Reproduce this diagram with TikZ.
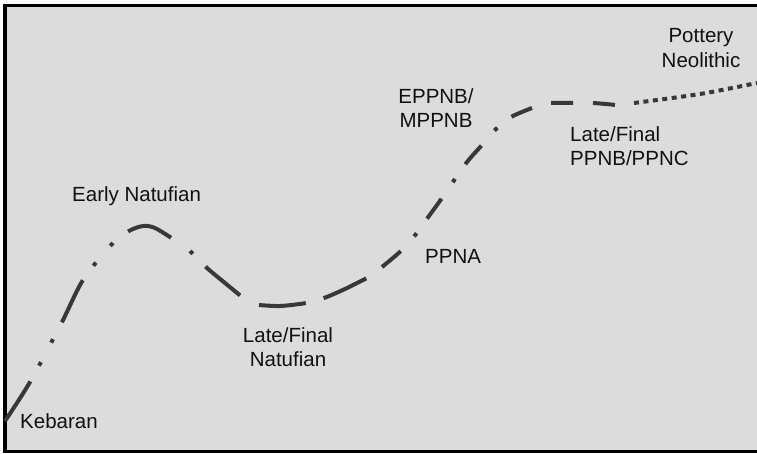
\documentclass[tikz,border=0pt]{standalone}
\usepackage{fontspec}
\setmainfont{Liberation Sans}
\usepackage{tikz}
\definecolor{panelgray}{HTML}{DCDCDC}
\definecolor{curvegray}{HTML}{383838}
\definecolor{ink}{HTML}{111111}
\tikzset{
  phaselabel/.style={
    font=\fontsize{20.5}{24.5}\selectfont, text=ink,
    inner sep=0pt, align=center
  },
  phasecurve/.style={
    draw=curvegray, line width=4pt, dash pattern=#1
  },
  phasecurve/.default={on 47pt off 18.5pt},
  frameline/.style={draw=black, line width=3.5pt},
}
\begin{document}
\begin{tikzpicture}[x=1pt, y=-1pt]
  \useasboundingbox (0,0) rectangle (757,454);
  % panel
  \fill[panelgray] (5,5.5) rectangle (757,451.5);
  \draw[frameline] (757,5.5) -- (5,5.5) -- (5,451.5) -- (757,451.5);

  % Kebaran to Early Natufian
  \draw[phasecurve={on 47pt off 18pt on 4pt off 22pt on 4pt off 19pt}]
    plot[smooth, tension=0.5] coordinates {(5,421) (30,382) (62,322) (83,280)
      (112,244) (129,231) (143,226) (155,228) (173,239)};
  % Early to Late Natufian
  \draw[phasecurve={on 4pt off 18pt on 45pt off 18pt}]
    plot[smooth, tension=0.5] coordinates {(190,251) (207,268) (225,283) (242,297)};
  % Late/Final Natufian
  \draw[phasecurve]
    plot[smooth, tension=0.5] coordinates {(259,305) (280,306) (306,303)
      (324,298) (345,289) (367,278)};
  % PPNA to EPPNB/MPPNB
  \draw[phasecurve={on 24.5pt off 20pt on 4pt off 18pt}]
    plot[smooth, tension=0.5] coordinates {(382,267) (402,250) (416,234)
      (429,216) (442,198) (455,179) (467,162) (482,145) (496,129) (511,117) (532,108)};
  % Late/Final PPNB/PPNC
  \draw[phasecurve={on 22pt off 20pt}]
    plot[smooth, tension=0.5] coordinates {(551,103) (573,103) (593,103) (616,105)};
  % Pottery Neolithic
  \draw[phasecurve={on 5pt off 4.5pt}]
    plot[smooth, tension=0.5] coordinates {(634,103) (700,94) (757,83)};

  % labels
  \node[phaselabel, anchor=base west] (kebaran) at (20,428) {Kebaran};
  \node[phaselabel, anchor=base west] (early) at (72,202) {Early Natufian};
  \node[phaselabel] (latenat) at (288,347) {Late/Final\\Natufian};
  \node[phaselabel, anchor=base west] (ppna) at (425,263) {PPNA};
  \node[phaselabel] (eppnb) at (436,108) {EPPNB/\\MPPNB};
  \node[phaselabel, align=left, anchor=west] (lateppnb) at (570,146) {Late/Final\\PPNB/PPNC};
  \node[phaselabel] (pottery) at (701,48) {Pottery\\Neolithic};
\end{tikzpicture}
\end{document}
